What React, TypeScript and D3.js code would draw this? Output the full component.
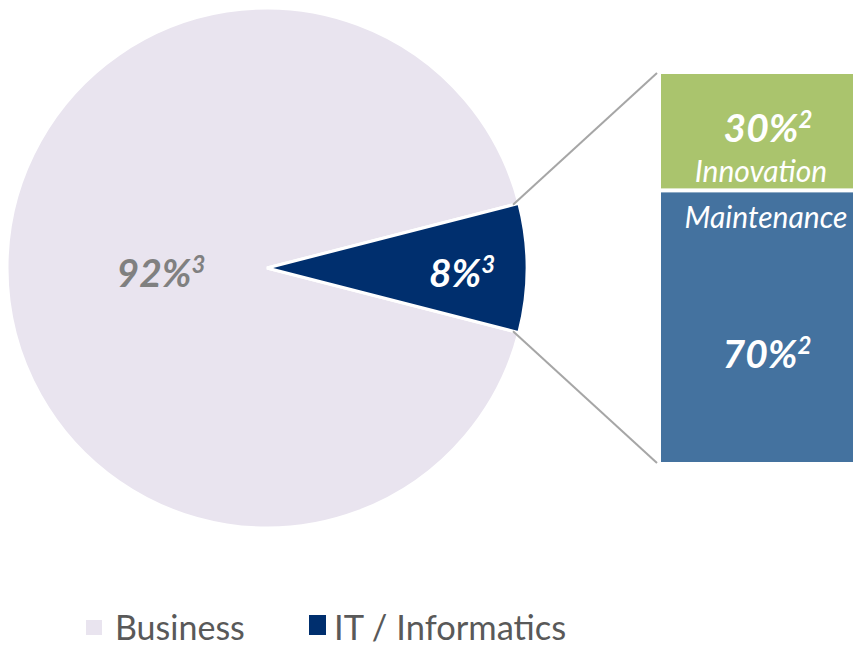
import React from "react";
import * as d3 from "d3";

const pieLabels = ["Business", "IT / Informatics"];
const pieValues = [92, 8];
const pieNotes = ["3", "3"];
const pieColors = ["#E9E4EF", "#002F6E"];

const barLabels = ["Maintenance", "Innovation"];
const barValues = [70, 30];
const barNotes = ["2", "2"];
const barColors = ["#44729F", "#AAC46D"];

const W = 855;
const H = 646;
const FONT = "Lato, 'Open Sans', sans-serif";

export default function App() {
  const cx = 267;
  const cy = 268;
  const r = 260;

  const itShare = pieValues[1] / d3.sum(pieValues);
  const start = Math.PI / 2 + itShare * Math.PI;
  const pie = d3
    .pie<number>()
    .sort(null)
    .value((d) => d)
    .startAngle(start)
    .endAngle(start + 2 * Math.PI);
  const arcs = pie(pieValues);
  const arcGen = d3.arc<d3.PieArcDatum<number>>().innerRadius(0).outerRadius(r);

  // bar
  const barX0 = 661;
  const barX1 = 853;
  const y = d3.scaleLinear().domain([0, d3.sum(barValues)]).range([462, 74]);
  let acc = 0;
  const stacks = barValues.map((v, i) => {
    const s = { y0: acc, y1: acc + v, i };
    acc += v;
    return s;
  });

  const it = arcs[1];
  const pt = (a: number) => [cx + (r - 6) * Math.sin(a), cy - (r - 6) * Math.cos(a)];
  const [tx, ty] = pt(it.startAngle);
  const [bx, by] = pt(it.endAngle);
  const topEnd = [barX0 - 4, y(d3.sum(barValues)) - 1];
  const botEnd = [barX0 - 4, y(0) + 1];

  const bigStyle = { fontFamily: FONT, fontWeight: 700, fontStyle: "italic", fontSize: 39 } as const;
  const sup = (t: string) => (
    <tspan fontSize={24} dy={-14}>
      {t}
    </tspan>
  );

  return (
    <svg
      width={W}
      height={H}
      style={{ position: "absolute", left: 0, top: 0, background: "#fff" }}
    >
      <g transform={`translate(${cx},${cy})`}>
        {arcs.map((a, i) => (
          <path key={i} d={arcGen(a) || ""} fill={pieColors[i]} stroke="#fff" strokeWidth={3} />
        ))}
      </g>
      <line x1={tx} y1={ty} x2={topEnd[0]} y2={topEnd[1]} stroke="#A6A6A6" strokeWidth={2} />
      <line x1={bx} y1={by} x2={botEnd[0]} y2={botEnd[1]} stroke="#A6A6A6" strokeWidth={2} />

      <text x={cx - 106} y={287} textAnchor="middle" fill="#808080" {...bigStyle}>
        {pieValues[0]}%{sup(pieNotes[0])}
      </text>
      <text x={cx + 195} y={287} textAnchor="middle" fill="#fff" {...bigStyle}>
        {pieValues[1]}%{sup(pieNotes[1])}
      </text>

      {stacks.map((s) => (
        <rect
          key={s.i}
          x={barX0}
          width={barX1 - barX0}
          y={y(s.y1) + (s.i === 1 ? 0 : 2)}
          height={y(s.y0) - y(s.y1) - 2}
          fill={barColors[s.i]}
        />
      ))}

      <text x={768} y={142} textAnchor="middle" fill="#fff" {...bigStyle}>
        {barValues[1]}%{sup(barNotes[1])}
      </text>
      <text x={761} y={182} textAnchor="middle" fill="#fff" fontFamily={FONT} fontStyle="italic" fontSize={30}>
        {barLabels[1]}
      </text>
      <text x={766} y={228} textAnchor="middle" fill="#fff" fontFamily={FONT} fontStyle="italic" fontSize={30}>
        {barLabels[0]}
      </text>
      <text x={767} y={368} textAnchor="middle" fill="#fff" {...bigStyle}>
        {barValues[0]}%{sup(barNotes[0])}
      </text>

      {/* legend */}
      <rect x={86} y={620} width={16} height={15} fill={pieColors[0]} />
      <text x={115} y={640} fill="#595959" fontFamily={FONT} fontSize={34}>
        {pieLabels[0]}
      </text>
      <rect x={309} y={615} width={17} height={20} fill={pieColors[1]} />
      <text x={334} y={640} fill="#595959" fontFamily={FONT} fontSize={34.5}>
        {pieLabels[1]}
      </text>
    </svg>
  );
}
